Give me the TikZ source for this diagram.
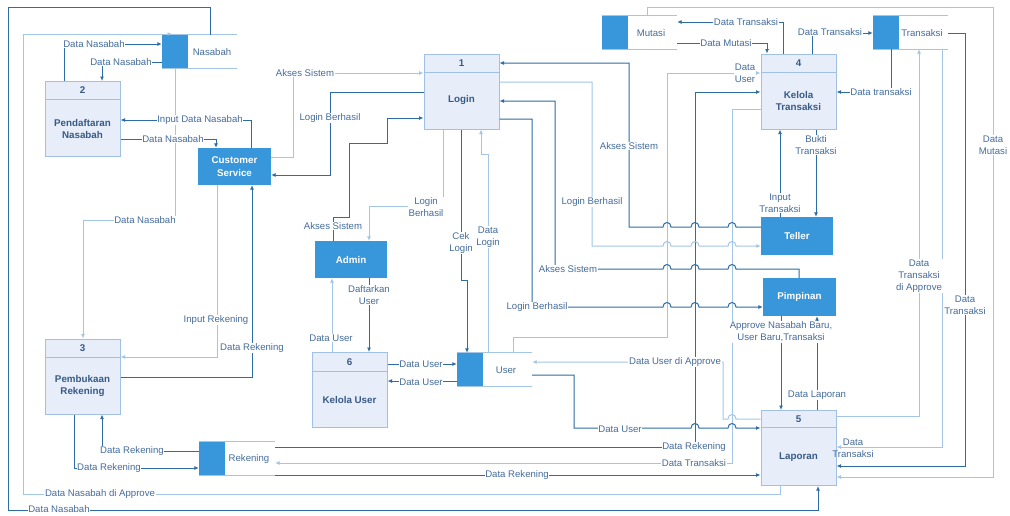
\documentclass[tikz,border=0pt]{standalone}
\usepackage{fontspec}
\setmainfont{Liberation Sans}
\usetikzlibrary{arrows.meta}
\definecolor{dkc}{RGB}{45,108,165}
\definecolor{ltc}{RGB}{163,197,230}
\definecolor{txc}{RGB}{68,108,155}
\definecolor{pfill}{RGB}{231,238,249}
\definecolor{pdraw}{RGB}{160,192,228}
\definecolor{ptc}{RGB}{55,90,135}
\definecolor{efill}{RGB}{56,150,219}
\newcommand{\lfont}{\fontsize{9.6}{12}\selectfont}
\newcommand{\bfont}{\fontsize{9.8}{12.5}\selectfont\bfseries}
\begin{document}
\begin{tikzpicture}[x=1pt,y=-1pt,
  proc/.style={draw=pdraw, fill=pfill, line width=1pt, minimum width=75pt, minimum height=75pt, inner sep=0pt},
  ent/.style={fill=efill, text=white, font=\bfont, align=center, minimum width=72pt, minimum height=37pt, inner sep=0pt},
  store/.style={minimum width=75pt, minimum height=33pt, inner sep=0pt},
  ptxt/.style={text=ptc, font=\bfont, align=center, inner sep=0pt},
  stxt/.style={text=txc, font=\lfont, inner sep=0pt},
  lbl/.style={fill=white, text=txc, font=\lfont, inner sep=0.7pt, align=center},
  dk/.style={draw=dkc, line width=1pt, -{Latex[length=4.5pt,width=4pt]}},
  lt/.style={draw=ltc, line width=1pt, -{Latex[length=4.5pt,width=4pt]}},
  pline/.style={draw=pdraw, line width=1pt},
  sline/.style={draw=ltc, line width=1pt}]
\useasboundingbox[fill=white] (0,0) rectangle (1010,515);

% ---------- processes ----------
\node[proc] (p1) at (461.5,91.5) {};
\node[proc] (p2) at (82.5,119) {};
\node[proc] (p3) at (82.5,376.5) {};
\node[proc] (p4) at (798.5,91.5) {};
\node[proc] (p5) at (798.5,448) {};
\node[proc] (p6) at (349.5,390) {};
\draw[pline] (p1.west |- 0,72) -- (p1.east |- 0,72);
\draw[pline] (p2.west |- 0,99) -- (p2.east |- 0,99);
\draw[pline] (p3.west |- 0,357) -- (p3.east |- 0,357);
\draw[pline] (p4.west |- 0,72) -- (p4.east |- 0,72);
\draw[pline] (p5.west |- 0,427) -- (p5.east |- 0,427);
\draw[pline] (p6.west |- 0,371) -- (p6.east |- 0,371);
\node[ptxt] (p1n) at (461.5,63) {1};
\node[ptxt] (p1t) at (461.5,100) {Login};
\node[ptxt] (p2n) at (82.5,90) {2};
\node[ptxt] (p2t) at (82.5,129) {Pendaftaran\\Nasabah};
\node[ptxt] (p3n) at (82.5,348) {3};
\node[ptxt] (p3t) at (82.5,386) {Pembukaan\\Rekening};
\node[ptxt] (p4n) at (798.5,63) {4};
\node[ptxt] (p4t) at (798.5,101) {Kelola\\Transaksi};
\node[ptxt] (p5n) at (798.5,419) {5};
\node[ptxt] (p5t) at (798.5,457) {Laporan};
\node[ptxt] (p6n) at (349.5,362) {6};
\node[ptxt] (p6t) at (349.5,400) {Kelola User};

% ---------- entities ----------
\node[ent, minimum width=73pt] (cs) at (234.5,166.5) {Customer\\Service};
\node[ent] (admin) at (351,259.5) {Admin};
\node[ent, minimum height=38pt] (teller) at (797,236) {Teller};
\node[ent, minimum width=73pt, minimum height=38pt] (pim) at (799.5,297) {Pimpinan};

% ---------- data stores ----------
\node[store] (nas) at (199.5,51.5) {};
\node[store] (mut) at (639.5,32.5) {};
\node[store] (trs) at (910.5,32.5) {};
\node[store] (usr) at (494.5,369.5) {};
\node[store, minimum width=76pt] (rek) at (237,458.5) {};
\foreach \s in {nas,mut,trs,usr,rek}{
  \fill[efill] (\s.north west) rectangle ++(26,33);
  \draw[sline] (\s.north west) -- (\s.north east) (\s.south west) -- (\s.south east);
}
\node[stxt] (nast) at (212,52) {Nasabah};
\node[stxt] (mutt) at (651,33) {Mutasi};
\node[stxt] (trst) at (922,33) {Transaksi};
\node[stxt] (usrt) at (506,370) {User};
\node[stxt] (rekt) at (249,459) {Rekening};

% ---------- connectors ----------
% Nasabah -> Laporan (outer)
\draw[dk] (210,0 |- nas.north) -- (210,7) -- (8,7) -- (8,510) -- (818,510) -- (818,0 |- p5.south);
% Laporan -> Nasabah (approve)
\draw[lt] (780,0 |- p5.south) -- (780,494) -- (23,494) -- (23,34) -- (172,34);
% Pendaftaran <-> Nasabah
\draw[dk] (64,0 |- p2.north) -- (64,44) -- (nas.west |- 0,44);
\draw[dk] (nas.west |- 0,62) -- (102,62) -- (102,0 |- p2.north);
% CS <-> Pendaftaran
\draw[dk] (251,0 |- cs.north) -- (251,120) -- (p2.east |- 0,120);
\draw[dk] (p2.east |- 0,139) -- (216,139) -- (216,0 |- cs.north);
% Nasabah -> Pembukaan
\draw[lt] (175,0 |- nas.south) -- (175,220) -- (83,220) -- (83,0 |- p3.north);
% CS <-> Login
\draw[lt] (cs.east |- 0,157) -- (293,157) -- (293,73) -- (p1.west |- 0,73);
\draw[dk] (p1.west |- 0,92) -- (330,92) -- (330,175) -- (cs.east |- 0,175);
% Admin <-> Login
\draw[dk] (333,0 |- admin.north) -- (333,217) -- (349,217) -- (349,143) -- (387,143) -- (387,118) -- (p1.west |- 0,118);
\draw[lt] (443,0 |- p1.south) -- (443,206) -- (369,206) -- (369,0 |- admin.north);
% Login <-> User
\draw[dk] (461,0 |- p1.south) -- (461,280) -- (467,280) -- (467,0 |- usr.north);
\draw[lt] (488,0 |- usr.north) -- (488,154) -- (481,154) -- (481,0 |- p1.south);
% User -> Kelola Transaksi
\draw[lt] (513,0 |- usr.north) -- (513,337) -- (667,337) -- (667,73) -- (p4.west |- 0,73);
% Rekening -> Kelola Transaksi
\draw[dk] (rek.east |- 0,447) -- (695,447) -- (695,92) -- (p4.west |- 0,92);
% Kelola Transaksi -> Rekening
\draw[lt] (p4.west |- 0,109) -- (732,109) -- (732,463) -- (rek.east |- 0,463);
% Teller -> Login
\draw[dk] (teller.west |- 0,227) -- (736,227) .. controls (736,221) and (728,221) .. (728,227)
  -- (699,227) .. controls (699,221) and (691,221) .. (691,227)
  -- (671,227) .. controls (671,221) and (663,221) .. (663,227)
  -- (629,227) -- (629,63) -- (p1.east |- 0,63);
% Login -> Teller
\draw[lt] (p1.east |- 0,82) -- (592,82) -- (592,246)
  -- (663,246) .. controls (663,240) and (671,240) .. (671,246)
  -- (691,246) .. controls (691,240) and (699,240) .. (699,246)
  -- (728,246) .. controls (728,240) and (736,240) .. (736,246)
  -- (teller.west |- 0,246);
% Pimpinan -> Login
\draw[dk] (799,0 |- pim.north) -- (799,269)
  -- (736,269) .. controls (736,263) and (728,263) .. (728,269)
  -- (699,269) .. controls (699,263) and (691,263) .. (691,269)
  -- (671,269) .. controls (671,263) and (663,263) .. (663,269)
  -- (555,269) -- (555,101) -- (p1.east |- 0,101);
% Login -> Pimpinan
\draw[dk] (p1.east |- 0,119) -- (532,119) -- (532,307)
  -- (663,307) .. controls (663,301) and (671,301) .. (671,307)
  -- (691,307) .. controls (691,301) and (699,301) .. (699,307)
  -- (728,307) .. controls (728,301) and (736,301) .. (736,307)
  -- (pim.west |- 0,307);
% Laporan -> User
\draw[lt] (p5.west |- 0,419) -- (736,419) .. controls (736,413) and (728,413) .. (728,419)
  -- (723,419) -- (723,362) -- (usr.east |- 0,362);
% User -> Laporan
\draw[dk] (usr.east |- 0,375) -- (574,375) -- (574,428)
  -- (691,428) .. controls (691,422) and (699,422) .. (699,428)
  -- (728,428) .. controls (728,422) and (736,422) .. (736,428)
  -- (p5.west |- 0,428);
% Rekening -> Laporan
\draw[dk] (rek.east |- 0,475) -- (p5.west |- 0,475);
% Rekening <-> Pembukaan
\draw[dk] (rek.west |- 0,451) -- (102,451) -- (102,0 |- p3.south);
\draw[dk] (74,0 |- p3.south) -- (74,468) -- (rek.west |- 0,468);
% CS <-> Pembukaan
\draw[lt] (217,0 |- cs.south) -- (217,357) -- (p3.east |- 0,357);
\draw[dk] (p3.east |- 0,377) -- (252,377) -- (252,0 |- cs.south);
% Admin <-> Kelola User
\draw[lt] (332,0 |- p6.north) -- (332,0 |- admin.south);
\draw[dk] (369,0 |- admin.south) -- (369,0 |- p6.north);
% Kelola User <-> User
\draw[dk] (p6.east |- 0,364) -- (usr.west |- 0,364);
\draw[dk] (usr.west |- 0,381) -- (p6.east |- 0,381);
% Teller <-> Kelola Transaksi
\draw[dk] (780,0 |- teller.north) -- (780,0 |- p4.south);
\draw[dk] (816,0 |- p4.south) -- (816,0 |- teller.north);
% Pimpinan <-> Laporan
\draw[dk] (781,0 |- pim.south) -- (781,0 |- p5.north);
\draw[dk] (817,0 |- p5.north) -- (817,0 |- pim.south);
% Kelola Transaksi <-> Mutasi
\draw[dk] (783,0 |- p4.north) -- (783,22) -- (mut.east |- 0,22);
\draw[dk] (mut.east |- 0,43) -- (767,43) -- (767,0 |- p4.north);
% Mutasi -> Laporan
\draw[lt] (647,0 |- mut.north) -- (647,7) -- (993,7) -- (993,477) -- (p5.east |- 0,477);
% Kelola Transaksi <-> Transaksi
\draw[dk] (812,0 |- p4.north) -- (812,33) -- (trs.west |- 0,33);
\draw[dk] (891,0 |- trs.south) -- (891,92) -- (p4.east |- 0,92);
% Laporan -> Transaksi
\draw[lt] (p5.east |- 0,416) -- (919,416) -- (919,0 |- trs.south);
% Transaksi -> Laporan
\draw[lt] (942,0 |- trs.south) -- (942,447) -- (p5.east |- 0,447);
\draw[dk] (trs.east |- 0,33) -- (965,33) -- (965,466) -- (p5.east |- 0,466);

% ---------- labels ----------
\node[lbl, inner sep=0.3pt] (l1) at (59,509.5) {Data Nasabah};
\node[lbl] (l2) at (100,494) {Data Nasabah di Approve};
\node[lbl] (l3) at (94,44) {Data Nasabah};
\node[lbl] (l4) at (121,62) {Data Nasabah};
\node[lbl] (l5) at (200,120) {Input Data Nasabah};
\node[lbl] (l6) at (173,139) {Data Nasabah};
\node[lbl] (l7) at (145,220) {Data Nasabah};
\node[lbl] (l8) at (305,73) {Akses Sistem};
\node[lbl] (l9) at (330,118) {Login Berhasil};
\node[lbl] (l10) at (333,226) {Akses Sistem};
\node[lbl] (l11) at (426,207) {Login\\Berhasil};
\node[lbl] (l12) at (461,243) {Cek\\Login};
\node[lbl] (l13) at (488,237) {Data\\Login};
\node[lbl] (l14) at (745,73) {Data\\User};
\node[lbl] (l15) at (694,447) {Data Rekening};
\node[lbl] (l16) at (694,463) {Data Transaksi};
\node[lbl] (l17) at (629,146) {Akses Sistem};
\node[lbl] (l18) at (592,202) {Login Berhasil};
\node[lbl] (l19) at (568,269) {Akses Sistem};
\node[lbl] (l20) at (537,307) {Login Berhasil};
\node[lbl] (l21) at (675,362) {Data User di Approve};
\node[lbl] (l22) at (620,429) {Data User};
\node[lbl] (l23) at (517,475) {Data Rekening};
\node[lbl] (l24) at (132,451) {Data Rekening};
\node[lbl] (l25) at (109,468) {Data Rekening};
\node[lbl] (l26) at (216,320) {Input Rekening};
\node[lbl] (l27) at (252,348) {Data Rekening};
\node[lbl] (l28) at (331,338) {Data User};
\node[lbl] (l29) at (369,295) {Daftarkan\\User};
\node[lbl] (l30) at (421,364) {Data User};
\node[lbl] (l31) at (421,382) {Data User};
\node[lbl] (l32) at (780,203) {Input\\Transaksi};
\node[lbl] (l33) at (816,145) {Bukti\\Transaksi};
\node[lbl] (l34) at (781,332) {Approve Nasabah Baru,\\User Baru,Transaksi};
\node[lbl] (l35) at (817,395) {Data Laporan};
\node[lbl] (l36) at (746,22) {Data Transaksi};
\node[lbl] (l37) at (726,43) {Data Mutasi};
\node[lbl] (l38) at (993,145) {Data\\Mutasi};
\node[lbl] (l39) at (830,32) {Data Transaksi};
\node[lbl] (l40) at (881,92) {Data transaksi};
\node[lbl] (l41) at (919,276) {Data\\Transaksi\\di Approve};
\node[lbl, fill=none] (l42) at (853,448) {Data\\Transaksi};
\node[lbl] (l43) at (965,305) {Data\\Transaksi};
\end{tikzpicture}
\end{document}
